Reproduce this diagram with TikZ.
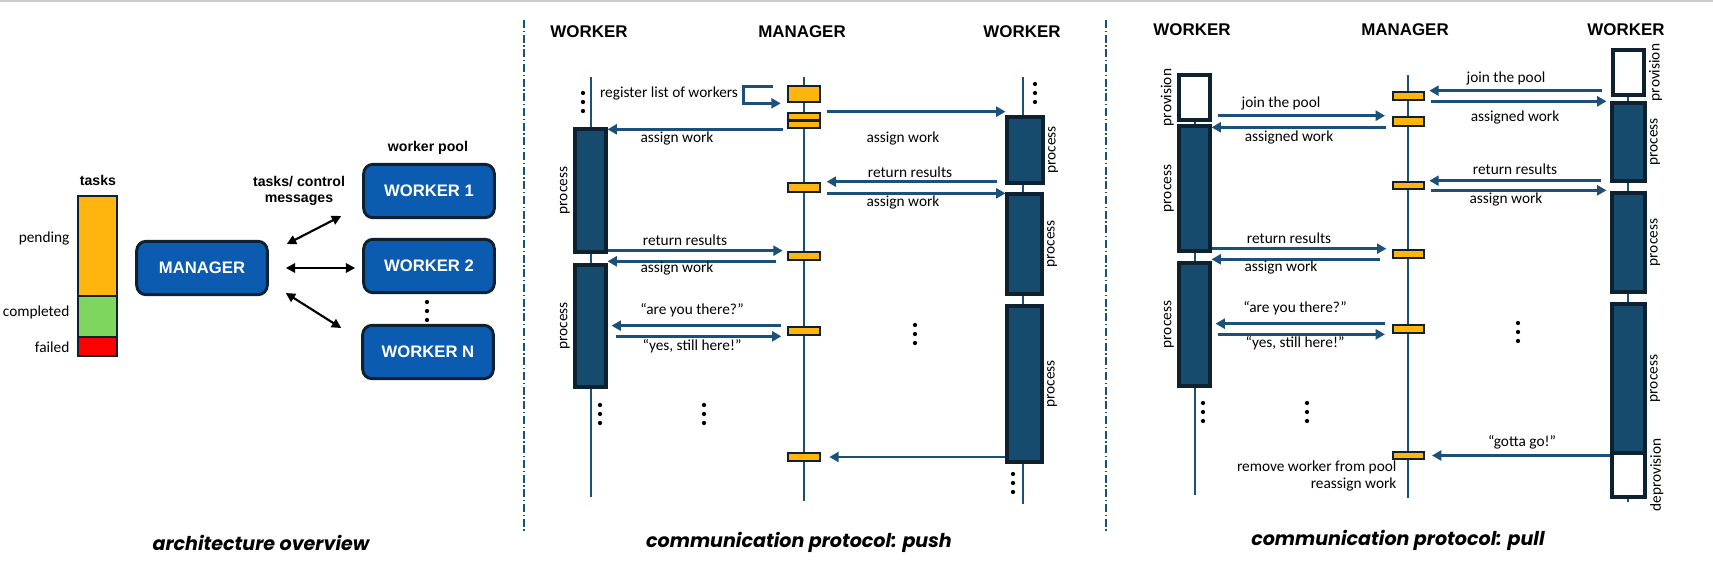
\documentclass[tikz,border=0pt]{standalone}
\usepackage{fontspec}
\setmainfont{Carlito}
\newfontfamily\headfont{Liberation Sans}
\newfontfamily\capfont{Poppins}
\usetikzlibrary{calc,fit,positioning,arrows.meta}

\definecolor{seqline}{HTML}{1B5078}
\definecolor{procblue}{HTML}{174B6E}
\definecolor{darkrim}{HTML}{0E2131}
\definecolor{tasky}{HTML}{FFB50D}
\definecolor{archblue}{HTML}{0B5CB0}
\definecolor{donegreen}{HTML}{7ED65E}
\definecolor{failred}{HTML}{FF0000}

\tikzset{
	lane/.style={draw=seqline, line width=2pt},
	msg/.style={draw=seqline, line width=1.9pt, -{Triangle[length=7pt,width=7.5pt]}},
	bimsg/.style={draw=black, line width=1.6pt, {Triangle[length=7pt,width=7pt]}-{Triangle[length=7pt,width=7pt]}},
	mgrtick/.style={draw=darkrim, line width=2pt, fill=tasky, inner sep=0pt},
	procbox/.style={draw=darkrim, line width=2.3pt, fill=procblue, inner sep=0pt},
	provbox/.style={draw=darkrim, line width=2.3pt, fill=white, inner sep=0pt},
	archbox/.style={draw=darkrim, line width=2.2pt, fill=archblue, rounded corners=7pt, minimum width=98pt, minimum height=40pt, text=white, font=\headfont\bfseries\fontsize{12.5}{14}\selectfont},
	lbl/.style={font=\fontsize{11.5}{12.8}\selectfont, inner sep=1pt},
	head/.style={font=\headfont\bfseries\fontsize{12.7}{14}\selectfont},
	smallhead/.style={font=\headfont\bfseries\fontsize{10.6}{12.5}\selectfont, align=center, inner sep=1pt},
	side/.style={font=\fontsize{11.5}{13}\selectfont, rotate=90, inner sep=2.5pt},
	caption/.style={font=\capfont\bfseries\itshape\fontsize{14.3}{16}\selectfont},
	sep/.style={draw=seqline, line width=0.8pt, dash pattern=on 6pt off 2pt on 1pt off 2pt},
}
\def\vdotcol(#1,#2){\foreach \k in {0,1,2} \fill (#1,{#2+9*\k}) circle (1.6pt);}

\begin{document}
\begin{tikzpicture}[x=0.75pt,y=-0.75pt]
		%%%%% FRAME %%%%%
		\useasboundingbox (0,0) rectangle (1713,571);
		\draw[black!20, line width=1.5pt] (0,1) -- (1713,1);
		\draw[sep] (524,20) -- (524,533);
		\draw[sep] (1106,20) -- (1106,533);
		
		%%%%% ARCHITECTURE OVERVIEW %%%%%
		\node[smallhead] (tasklbl) at (98,180) {tasks};
		\node[fill=tasky, draw=darkrim, line width=2.2pt, inner sep=0pt, fit={(78,196) (117,296)}] (tPend) {};
		\node[fill=donegreen, draw=darkrim, line width=2.2pt, inner sep=0pt, fit={(78,296) (117,337)}] (tDone) {};
		\node[fill=failred, draw=darkrim, line width=2.2pt, inner sep=0pt, fit={(78,337) (117,356)}] (tFail) {};
		\node[lbl, anchor=east] (pendlbl) at (71,238) {pending};
		\node[lbl, anchor=east] (donelbl) at (71,312) {completed};
		\node[lbl, anchor=east] (faillbl) at (71,347) {failed};
		
		\node[archbox] (mgr) at (202,268) {MANAGER};
		\node[archbox] (w1) at (429,191) {WORKER 1};
		\node[archbox] (w2) at (429,266) {WORKER 2};
		\node[archbox] (wn) at (428,352) {WORKER N};
		\node[smallhead] (poollbl) at (428,148) {worker pool};
		\node[smallhead] (ctrllbl) at (299,191) {tasks/ control\\messages};
		\vdotcol(427,302)
		
		\draw[bimsg] ($(mgr.east)+(18,-24)$) -- ($(w1.west)+(-21,25)$);
		\draw[bimsg] ($(mgr.east)+(17,0)$) -- ($(w2.west)+(-7,2)$);
		\draw[bimsg] ($(mgr.east)+(17,25)$) -- ($(wn.west)+(-20,-24)$);
		
		\node[caption] (capA) at (261,543) {architecture overview};
		
		%%%%% PUSH %%%%%
		\node[head] (hdA1) at (589,32) {WORKER};
		\node[head] (hdA2) at (802,32) {MANAGER};
		\node[head] (hdA3) at (1022,32) {WORKER};
		
		\coordinate (laneA1) at (591,77);
		\coordinate (laneA2) at (804,77);
		\coordinate (laneA3) at (1023,77);
		\draw[lane] (laneA1) -- (591,497);
		\draw[lane] (laneA2) -- (804,501);
		\draw[lane] (laneA3) -- (1023,504);
		
		\node[mgrtick, fit={(788,86) (820,102)}] (mA1) {};
		\node[mgrtick, fit={(788,113) (820,128)}] (mA2) {};
		\draw[darkrim, line width=2pt] (mA2.west) -- (mA2.east);
		\node[mgrtick, fit={(788,183) (820,192)}] (mA3) {};
		\node[mgrtick, fit={(788,252) (820,260)}] (mA4) {};
		\node[mgrtick, fit={(788,327) (820,335)}] (mA5) {};
		\node[mgrtick, fit={(788,453) (820,461)}] (mA6) {};
		
		\node[procbox, fit={(575,129) (606,252)}] (lP1) {};
		\node[procbox, fit={(575,265) (606,387)}] (lP2) {};
		\node[procbox, fit={(1007,117) (1043,183)}] (rP1) {};
		\node[procbox, fit={(1007,194) (1042,294)}] (rP2) {};
		\node[procbox, fit={(1007,306) (1042,462)}] (rP3) {};
		\node[side, anchor=south] (sA1) at (lP1.west) {process};
		\node[side, anchor=south] (sA2) at (lP2.west) {process};
		\node[side, anchor=north] (sA3) at (rP1.east) {process};
		\node[side, anchor=north] (sA4) at (rP2.east) {process};
		\node[side, anchor=north] (sA5) at (rP3.east) {process};
		
		\draw[msg] ([xshift=-10pt,yshift=-1.5pt]mA1.north west) -- ++(-30,0) |- ([xshift=-4.5pt]mA1.south west);
		\draw[msg] ([xshift=4pt]mA2.north east) -- (mA2.north east -| rP1.west);
		\draw[msg] ([xshift=-3pt]mA2.south west) -- (mA2.south west -| lP1.east);
		\draw[msg] ([xshift=-6pt]mA3.north east -| rP1.west) -- ([xshift=4pt]mA3.north east);
		\draw[msg] ([xshift=4pt]mA3.south east) -- (mA3.south east -| rP2.west);
		\draw[msg] (mA4.north west -| lP1.east) -- ([xshift=-3pt]mA4.north west);
		\draw[msg] ([xshift=-8pt]mA4.south west) -- (mA4.south west -| lP2.east);
		\draw[msg] ([xshift=-4pt]mA5.north west) -- ([xshift=3pt]mA5.north west -| lP2.east);
		\draw[msg] ([xshift=6pt]mA5.south west -| lP2.east) -- ([xshift=-4pt]mA5.south west);
		\draw[msg] (mA6.east -| rP3.west) -- ([xshift=6pt]mA6.east);
		
		\node[lbl] (tA1) at (669,93) {register list of workers};
		\node[lbl] (tA2) at (677,138) {assign work};
		\node[lbl] (tA3) at (903,138) {assign work};
		\node[lbl] (tA4) at (910,172) {return results};
		\node[lbl] (tA5) at (903,202) {assign work};
		\node[lbl] (tA6) at (685,240) {return results};
		\node[lbl] (tA7) at (677,268) {assign work};
		\node[lbl] (tA8) at (692,310) {“are you there?”};
		\node[lbl] (tA9) at (692,346) {“yes, still here!”};
		
		\vdotcol(583,93)
		\vdotcol(1035,84)
		\vdotcol(915,325)
		\vdotcol(600,405)
		\vdotcol(704,405)
		\vdotcol(1013,474)
		
		\node[caption] (capB) at (799,542) {communication protocol: push};
		
		%%%%% PULL %%%%%
		\node[head] (hdB1) at (1192,30) {WORKER};
		\node[head] (hdB2) at (1405,30) {MANAGER};
		\node[head] (hdB3) at (1626,30) {WORKER};
		
		\coordinate (laneB1) at (1195,75);
		\coordinate (laneB2) at (1408,75);
		\coordinate (laneB3) at (1628,50);
		\draw[lane] (laneB1) -- (1195,495);
		\draw[lane] (laneB2) -- (1408,498);
		\draw[lane] (laneB3) -- (1628,502);
		
		\node[mgrtick, fit={(1393,92) (1424,100)}] (nA1) {};
		\node[mgrtick, fit={(1393,117) (1424,126)}] (nA2) {};
		\node[mgrtick, fit={(1393,182) (1424,189)}] (nA3) {};
		\node[mgrtick, fit={(1393,250) (1424,258)}] (nA4) {};
		\node[mgrtick, fit={(1393,325) (1424,333)}] (nA5) {};
		\node[mgrtick, fit={(1393,452) (1424,459)}] (nA6) {};
		
		\node[provbox, fit={(1179,75) (1210,120)}] (lV) {};
		\node[procbox, fit={(1179,126) (1210,251)}] (lQ1) {};
		\node[procbox, fit={(1179,263) (1210,386)}] (lQ2) {};
		\node[provbox, fit={(1613,50) (1644,95)}] (rV) {};
		\node[procbox, fit={(1612,103) (1645,181)}] (rQ1) {};
		\node[procbox, fit={(1612,193) (1645,292)}] (rQ2) {};
		\node[procbox, fit={(1612,304) (1645,453)}] (rQ3) {};
		\node[provbox, fit={(1612,453) (1645,497)}] (rD) {};
		\node[side, anchor=south] (sB1) at (lV.west) {provision};
		\node[side, anchor=south] (sB2) at (lQ1.west) {process};
		\node[side, anchor=south] (sB3) at (lQ2.west) {process};
		\node[side, anchor=north] (sB4) at (rV.east) {provision};
		\node[side, anchor=north] (sB5) at (rQ1.east) {process};
		\node[side, anchor=north] (sB6) at (rQ2.east) {process};
		\node[side, anchor=north] (sB7) at (rQ3.east) {process};
		\node[side, anchor=north] (sB8) at (rD.east) {deprovision};
		
		\draw[msg] ([xshift=5pt]nA2.north west -| lV.east) -- ([xshift=-5pt]nA2.north west);
		\draw[msg] ([xshift=-4pt]nA2.south west) -- (nA2.south west -| lQ1.east);
		\draw[msg] ([xshift=-7pt]nA1.north east -| rV.west) -- ([xshift=3pt]nA1.north east);
		\draw[msg] ([xshift=4pt]nA1.south east) -- ([xshift=-3pt]nA1.south east -| rQ1.west);
		\draw[msg] ([xshift=-7pt]nA3.north east -| rQ1.west) -- ([xshift=3pt]nA3.north east);
		\draw[msg] ([xshift=4pt]nA3.south east) -- ([xshift=-3pt]nA3.south east -| rQ2.west);
		\draw[msg] (nA4.north west -| lQ1.east) -- ([xshift=-4pt]nA4.north west);
		\draw[msg] ([xshift=-9pt]nA4.south west) -- (nA4.south west -| lQ2.east);
		\draw[msg] ([xshift=-5pt]nA5.north west) -- ([xshift=3pt]nA5.north west -| lQ2.east);
		\draw[msg] ([xshift=5pt]nA5.south west -| lQ2.east) -- ([xshift=-5pt]nA5.south west);
		\draw[msg] (nA6.east -| rQ3.west) -- ([xshift=5pt]nA6.east);
		
		\node[lbl] (tB1) at (1281,103) {join the pool};
		\node[lbl] (tB2) at (1289,137) {assigned work};
		\node[lbl] (tB3) at (1506,78) {join the pool};
		\node[lbl] (tB4) at (1515,117) {assigned work};
		\node[lbl] (tB5) at (1515,169) {return results};
		\node[lbl] (tB6) at (1506,199) {assign work};
		\node[lbl] (tB7) at (1289,238) {return results};
		\node[lbl] (tB8) at (1281,267) {assign work};
		\node[lbl] (tB9) at (1295,308) {“are you there?”};
		\node[lbl] (tB10) at (1295,343) {“yes, still here!”};
		\node[lbl] (tB11) at (1522,442) {“gotta go!”};
		\node[lbl, align=right, anchor=east] (tB12) at (1398,476) {remove worker from pool\\reassign work};
		
		\vdotcol(1518,323)
		\vdotcol(1203,403)
		\vdotcol(1307,403)
		
		\node[caption] (capC) at (1398,540) {communication protocol: pull};
	\end{tikzpicture}
\end{document}
